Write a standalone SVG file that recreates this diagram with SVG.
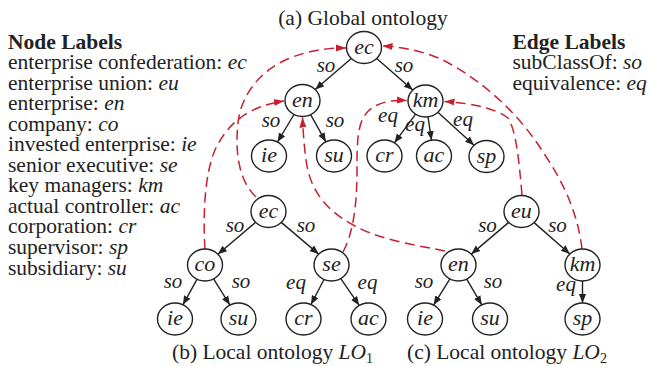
<svg xmlns="http://www.w3.org/2000/svg" width="647" height="366" viewBox="0 0 647 366">
<style>
text{font-family:"Liberation Serif","Times New Roman",serif;fill:#222}
.t{font-size:21.5px}
.b{font-size:21.5px;font-weight:bold}
.i{font-style:italic}
.n ellipse{fill:#fff;stroke:#222;stroke-width:1.4}
.n text{font-size:22px;font-style:italic;text-anchor:middle}
.e{stroke:#222;stroke-width:1.4;fill:none;marker-end:url(#ab)}
.r{stroke:#c8202f;stroke-width:1.5;fill:none;stroke-dasharray:10 5.5;marker-end:url(#ar)}
.l{font-size:21px;font-style:italic;text-anchor:middle}
</style>
<defs>
<marker id="ab" viewBox="0 0 10 10" refX="10" refY="5" markerWidth="9" markerHeight="9" markerUnits="userSpaceOnUse" orient="auto"><path d="M0,1 L10,5 L0,9 z" fill="#222"/></marker>
<marker id="ar" viewBox="0 0 10 10" refX="10" refY="5" markerWidth="10" markerHeight="10" markerUnits="userSpaceOnUse" orient="auto"><path d="M0,1.5 L10,5 L0,8.5 z" fill="#c8202f"/></marker>
</defs>

<g id="legend-nodes">
<text class="b" x="8" y="48.5">Node Labels</text>
<text class="t" x="8" y="69">enterprise confederation: <tspan class="i">ec</tspan></text>
<text class="t" x="8" y="89.6">enterprise union: <tspan class="i">eu</tspan></text>
<text class="t" x="8" y="110.1">enterprise: <tspan class="i">en</tspan></text>
<text class="t" x="8" y="130.7">company: <tspan class="i">co</tspan></text>
<text class="t" x="8" y="151.2">invested enterprise: <tspan class="i">ie</tspan></text>
<text class="t" x="8" y="171.8">senior executive: <tspan class="i">se</tspan></text>
<text class="t" x="8" y="192.3">key managers: <tspan class="i">km</tspan></text>
<text class="t" x="8" y="212.9">actual controller: <tspan class="i">ac</tspan></text>
<text class="t" x="8" y="233.4">corporation: <tspan class="i">cr</tspan></text>
<text class="t" x="8" y="254">supervisor: <tspan class="i">sp</tspan></text>
<text class="t" x="8" y="274.5">subsidiary: <tspan class="i">su</tspan></text>
</g>
<g id="legend-edges">
<text class="b" x="512.5" y="48.5">Edge Labels</text>
<text class="t" x="512.5" y="69">subClassOf: <tspan class="i">so</tspan></text>
<text class="t" x="512.5" y="89.6">equivalence: <tspan class="i">eq</tspan></text>
</g>

<g id="captions">
<text class="t" x="363" y="25" text-anchor="middle">(a) Global ontology</text>
<text class="t" x="172" y="358.5">(b) Local ontology <tspan class="i">LO</tspan><tspan font-size="14" dy="4">1</tspan></text>
<text class="t" x="407" y="358.5">(c) Local ontology <tspan class="i">LO</tspan><tspan font-size="14" dy="4">2</tspan></text>
</g>

<g id="connectors">
<!-- global -->
<line class="e" x1="351.3" y1="58.5" x2="315.2" y2="89.5"/>
<line class="e" x1="376.7" y1="58.5" x2="412.8" y2="90"/>
<line class="e" x1="294" y1="114.5" x2="277.5" y2="142"/>
<line class="e" x1="310.6" y1="114.7" x2="325.9" y2="141.8"/>
<line class="e" x1="415.6" y1="114.2" x2="394.4" y2="142.8"/>
<line class="e" x1="428" y1="116.9" x2="431.5" y2="140.1"/>
<line class="e" x1="437.9" y1="112.3" x2="474.1" y2="145.2"/>
<!-- LO1 -->
<line class="e" x1="255.6" y1="222.3" x2="217.9" y2="254.2"/>
<line class="e" x1="281.3" y1="222.4" x2="318.7" y2="254.1"/>
<line class="e" x1="197.1" y1="279.2" x2="182.9" y2="304.8"/>
<line class="e" x1="213.6" y1="278.9" x2="229.9" y2="305.1"/>
<line class="e" x1="324" y1="279.5" x2="311" y2="304.5"/>
<line class="e" x1="340.8" y1="278.6" x2="359.2" y2="305.4"/>
<!-- LO2 -->
<line class="e" x1="508.7" y1="222.4" x2="471.3" y2="254.1"/>
<line class="e" x1="534.1" y1="222.6" x2="569.9" y2="254"/>
<line class="e" x1="449.9" y1="278.9" x2="433.6" y2="305.1"/>
<line class="e" x1="466.7" y1="279.1" x2="481.8" y2="304.9"/>
<line class="e" x1="582.5" y1="281" x2="582.5" y2="303"/>
<!-- mappings -->
<path class="r" d="M256,197 C238,180 235,150 238,123 C241,95 260,70 290,58 C310,50 328,48 346,48"/>
<path class="r" d="M205,249 C203,220 204,175 215,150 C228,122 250,106 284,101"/>
<path class="r" d="M343,252 C352,235 357,210 357,170 C357,140 357,118 372,108 C382,101 395,100 407,100.5"/>
<path class="r" d="M445,251 C420,246 380,240 355,226 C325,210 310,190 306,160 C304,145 303,130 302.5,117.5"/>
<path class="r" d="M522,195 C519,160 516,130 508,118 C495,108 470,103 444.5,101.5"/>
<path class="r" d="M582,249 C578,215 565,185 545,155 C520,115 485,82 443,60 C425,52 405,47 382.5,46"/>
<!-- edge labels -->
<text class="l" x="326" y="72">so</text>
<text class="l" x="404" y="72">so</text>
<text class="l" x="271" y="127">so</text>
<text class="l" x="335" y="127">so</text>
<text class="l" x="388" y="122">eq</text>
<text class="l" x="415" y="130.5">eq</text>
<text class="l" x="463" y="126">eq</text>
<text class="l" x="235" y="231.5">so</text>
<text class="l" x="306" y="231.5">so</text>
<text class="l" x="173" y="288">so</text>
<text class="l" x="241" y="288">so</text>
<text class="l" x="296" y="289">eq</text>
<text class="l" x="367.5" y="289">eq</text>
<text class="l" x="487.5" y="231.5">so</text>
<text class="l" x="557.5" y="231.5">so</text>
<text class="l" x="424" y="288">so</text>
<text class="l" x="493" y="288">so</text>
<text class="l" x="566" y="291">eq</text>
</g>

<g id="g-ec" class="n"><ellipse cx="364" cy="47.5" rx="17.5" ry="16"/><text x="364" y="53.5">ec</text></g>
<g id="g-en" class="n"><ellipse cx="302.5" cy="100.5" rx="17.5" ry="16"/><text x="302.5" y="106.5">en</text></g>
<g id="g-km" class="n"><ellipse cx="425.5" cy="101" rx="17.5" ry="16"/><text x="425.5" y="107">km</text></g>
<g id="g-ie" class="n"><ellipse cx="269" cy="156" rx="17.5" ry="16"/><text x="269" y="162">ie</text></g>
<g id="g-su" class="n"><ellipse cx="334" cy="156" rx="17.5" ry="16"/><text x="334" y="162">su</text></g>
<g id="g-cr" class="n"><ellipse cx="384.5" cy="156" rx="17.5" ry="16"/><text x="384.5" y="162">cr</text></g>
<g id="g-ac" class="n"><ellipse cx="434" cy="156" rx="17.5" ry="16"/><text x="434" y="162">ac</text></g>
<g id="g-sp" class="n"><ellipse cx="486.5" cy="156.5" rx="17.5" ry="16"/><text x="486.5" y="162.5">sp</text></g>

<g id="l1-ec" class="n"><ellipse cx="268.5" cy="211.5" rx="17.5" ry="16"/><text x="268.5" y="217.5">ec</text></g>
<g id="l1-co" class="n"><ellipse cx="205" cy="265" rx="17.5" ry="16"/><text x="205" y="271">co</text></g>
<g id="l1-se" class="n"><ellipse cx="331.5" cy="265" rx="17.5" ry="16"/><text x="331.5" y="271">se</text></g>
<g id="l1-ie" class="n"><ellipse cx="175" cy="319" rx="17.5" ry="16"/><text x="175" y="325">ie</text></g>
<g id="l1-su" class="n"><ellipse cx="238.5" cy="319" rx="17.5" ry="16"/><text x="238.5" y="325">su</text></g>
<g id="l1-cr" class="n"><ellipse cx="303.5" cy="319" rx="17.5" ry="16"/><text x="303.5" y="325">cr</text></g>
<g id="l1-ac" class="n"><ellipse cx="368.5" cy="319" rx="17.5" ry="16"/><text x="368.5" y="325">ac</text></g>

<g id="l2-eu" class="n"><ellipse cx="521.5" cy="211.5" rx="17.5" ry="16"/><text x="521.5" y="217.5">eu</text></g>
<g id="l2-en" class="n"><ellipse cx="458.5" cy="265" rx="17.5" ry="16"/><text x="458.5" y="271">en</text></g>
<g id="l2-km" class="n"><ellipse cx="582.5" cy="265" rx="17.5" ry="16"/><text x="582.5" y="271">km</text></g>
<g id="l2-ie" class="n"><ellipse cx="425" cy="319" rx="17.5" ry="16"/><text x="425" y="325">ie</text></g>
<g id="l2-su" class="n"><ellipse cx="490" cy="319" rx="17.5" ry="16"/><text x="490" y="325">su</text></g>
<g id="l2-sp" class="n"><ellipse cx="582.5" cy="319" rx="17.5" ry="16"/><text x="582.5" y="325">sp</text></g>
</svg>
